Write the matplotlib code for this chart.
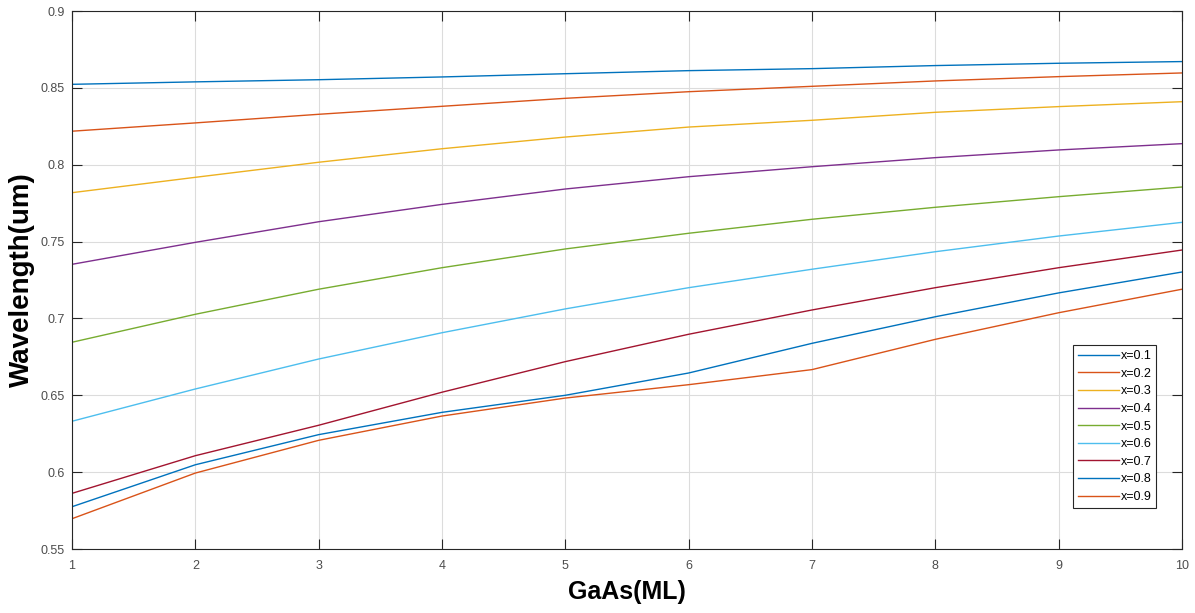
import matplotlib
matplotlib.use("Agg")
import matplotlib.pyplot as plt
from matplotlib.ticker import FuncFormatter

plt.rcParams['font.family'] = ['Liberation Sans', 'DejaVu Sans']

ml = [1, 2, 3, 4, 5, 6, 7, 8, 9, 10]
labels = ['x=0.1', 'x=0.2', 'x=0.3', 'x=0.4', 'x=0.5', 'x=0.6', 'x=0.7', 'x=0.8', 'x=0.9']
s01 = [0.8523, 0.8539, 0.8553, 0.8571, 0.8592, 0.8612, 0.8625, 0.8645, 0.8660, 0.8671]
s02 = [0.8218, 0.8272, 0.8328, 0.8380, 0.8432, 0.8475, 0.8510, 0.8545, 0.8573, 0.8597]
s03 = [0.7818, 0.7918, 0.8016, 0.8104, 0.8180, 0.8245, 0.8289, 0.8341, 0.8378, 0.8410]
s04 = [0.7352, 0.7495, 0.7629, 0.7742, 0.7842, 0.7922, 0.7987, 0.8046, 0.8096, 0.8137]
s05 = [0.6845, 0.7027, 0.7190, 0.7330, 0.7452, 0.7554, 0.7645, 0.7723, 0.7792, 0.7855]
s06 = [0.6331, 0.6541, 0.6736, 0.6907, 0.7062, 0.7200, 0.7320, 0.7434, 0.7536, 0.7625]
s07 = [0.5862, 0.6107, 0.6305, 0.6520, 0.6719, 0.6897, 0.7055, 0.7200, 0.7330, 0.7445]
s08 = [0.5775, 0.6048, 0.6244, 0.6389, 0.6500, 0.6645, 0.6838, 0.7011, 0.7166, 0.7302]
s09 = [0.5697, 0.5994, 0.6207, 0.6365, 0.6482, 0.6569, 0.6667, 0.6864, 0.7037, 0.7190]
series = [s01, s02, s03, s04, s05, s06, s07, s08, s09]

colors = ['#0072BD', '#D95319', '#EDB120', '#7E2F8E', '#77AC30',
          '#4DBEEE', '#A2142F', '#0072BD', '#D95319']

fig = plt.figure(figsize=(11.95, 6.13), dpi=100)
ax = fig.add_axes([72/1195, 1 - 549/613, (1182-72)/1195, (549-11)/613])

for s, c, lab in zip(series, colors, labels):
    ax.plot(ml, s, color=c, lw=1.0, label=lab)

ax.set_xlim(1, 10)
ax.set_ylim(0.55, 0.9)
ax.set_xticks(ml)
ax.set_yticks([0.55, 0.6, 0.65, 0.7, 0.75, 0.8, 0.85, 0.9])
ax.yaxis.set_major_formatter(FuncFormatter(lambda v, p: '%g' % round(v, 2)))
ax.grid(True, color='#dcdcdc', lw=0.8)
ax.set_axisbelow(True)
ax.tick_params(direction='in', length=7, width=0.8, top=True, right=True,
               labelsize=9, colors='#262626', labelcolor='#4d4d4d')
ax.tick_params(axis='x', pad=8)
ax.tick_params(axis='y', pad=5)
for sp in ax.spines.values():
    sp.set_color('#262626')
    sp.set_linewidth(0.8)

ax.set_xlabel('GaAs(ML)', fontsize=18, fontweight='bold', labelpad=6)
ax.set_ylabel('Wavelength(um)', fontsize=20, fontweight='bold', labelpad=4)

leg = ax.legend(loc='upper left', bbox_to_anchor=((1073-72)/1110, (549-345)/538),
                fontsize=9, handlelength=3.3, handletextpad=0.1, labelspacing=0.45,
                borderpad=0.4, borderaxespad=0, fancybox=False, framealpha=1,
                edgecolor='#262626')
leg.get_frame().set_linewidth(0.8)

fig.savefig('out.png', dpi=100)
